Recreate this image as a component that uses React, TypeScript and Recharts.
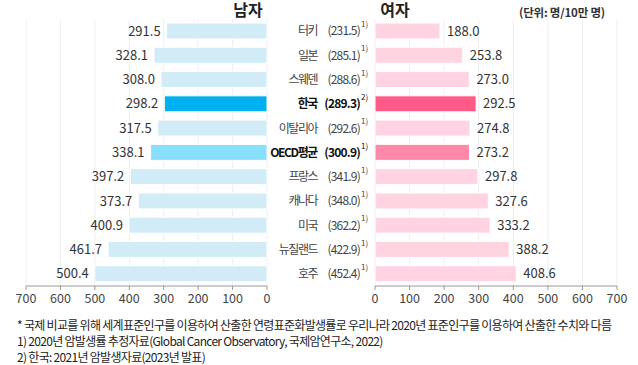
import { BarChart, Bar, XAxis, YAxis, CartesianGrid, Cell, LabelList } from "recharts"

const countries = ["터키", "일본", "스웨덴", "한국", "이탈리아", "OECD평균", "프랑스", "캐나다", "미국", "뉴질랜드", "호주"]
const male = [291.5, 328.1, 308.0, 298.2, 317.5, 338.1, 397.2, 373.7, 400.9, 461.7, 500.4]
const female = [188.0, 253.8, 273.0, 292.5, 274.8, 273.2, 297.8, 327.6, 333.2, 388.2, 408.6]
const total = [231.5, 285.1, 288.6, 289.3, 292.6, 300.9, 341.9, 348.0, 362.2, 422.9, 452.4]
const marks = ["1)", "1)", "1)", "2)", "1)", "1)", "1)", "1)", "1)", "1)", "1)"]
const axisTicks = [0, 100, 200, 300, 400, 500, 600, 700]

const notes = [
  "* 국제 비교를 위해 세계표준인구를 이용하여 산출한 연령표준화발생률로 우리나라 2020년 표준인구를 이용하여 산출한 수치와 다름",
  "1) 2020년 암발생률 추정자료(Global Cancer Observatory, 국제암연구소, 2022)",
  "2) 한국: 2021년 암발생자료(2023년 발표)",
]

const data = countries.map((name, i) => ({ name, male: male[i], female: female[i], total: total[i], mark: marks[i] }))

const maleColor = (name: string) => (name === "한국" ? "#00b0f0" : name === "OECD평균" ? "#88dffb" : "#d2ecf7")
const femaleColor = (name: string) => (name === "한국" ? "#ff5a88" : name === "OECD평균" ? "#ff87a8" : "#ffd4e0")
const isBold = (name: string) => name === "한국" || name === "OECD평균"

const tickStyle = { fontSize: 12.5, fill: "#444" }
// width of the category column on the right chart
const labelWidth = 115

function LeftValue(props: any) {
  const { x, y, width, height, value } = props
  const left = Math.min(x, x + width)
  return (
    <text x={left - 6} y={y + height / 2} dy="0.36em" textAnchor="end" fontSize={13} fill="#333">
      {Number(value).toFixed(1)}
    </text>
  )
}

function RightValue(props: any) {
  const { x, y, width, height, value } = props
  const right = Math.max(x, x + width)
  return (
    <text x={right + 7} y={y + height / 2} dy="0.36em" textAnchor="start" fontSize={13} fill="#333">
      {Number(value).toFixed(1)}
    </text>
  )
}

function CountryTick(props: any) {
  const { y, payload } = props
  const row = data.find((d) => d.name === payload.value)
  if (!row) return null
  const bold = isBold(row.name)
  const x = labelWidth
  return (
    <g>
      <text
        x={x - 58}
        y={y}
        dy="0.36em"
        textAnchor="end"
        fontSize={12}
        letterSpacing={bold ? -1.4 : -1.5}
        fontWeight={bold ? 700 : 400}
        fill={bold ? "#111" : "#444"}
      >
        {row.name}
      </text>
      <text
        x={x - 15}
        y={y}
        dy="0.36em"
        textAnchor="end"
        fontSize={12}
        letterSpacing={-0.8}
        fontWeight={bold ? 700 : 400}
        fill={bold ? "#111" : "#444"}
      >
        {"(" + row.total.toFixed(1) + ")"}
      </text>
      <text x={x - 14} y={y - 4} textAnchor="start" fontSize={8} fill={bold ? "#111" : "#444"}>
        {row.mark}
      </text>
    </g>
  )
}

export default function App() {
  return (
    <div
      style={{
        position: "absolute",
        left: 0,
        top: 0,
        width: 638,
        height: 365,
        background: "#fff",
        fontFamily: "'Noto Sans CJK KR', 'Noto Sans', sans-serif",
        color: "#222",
      }}
    >
      <div style={{ position: "absolute", left: 0, top: 0 }}>
        <BarChart width={280} height={310} data={data} layout="vertical" margin={{ top: 19, right: 13, left: 26, bottom: 0 }}>
          <CartesianGrid horizontal={false} stroke="#eeeeee" />
          <XAxis
            type="number"
            domain={[0, 700]}
            ticks={axisTicks}
            reversed
            height={24}
            tick={tickStyle}
            tickSize={4}
            tickMargin={4}
            stroke="#999"
          />
          <YAxis type="category" dataKey="name" hide />
          <Bar dataKey="male" barSize={16} isAnimationActive={false} stroke="#fff" strokeWidth={1}>
            {data.map((d) => (
              <Cell key={d.name} fill={maleColor(d.name)} />
            ))}
            <LabelList dataKey="male" content={LeftValue} />
          </Bar>
        </BarChart>
      </div>

      <div style={{ position: "absolute", left: 260, top: 0 }}>
        <BarChart width={378} height={310} data={data} layout="vertical" margin={{ top: 19, right: 21, left: 0, bottom: 0 }}>
          <CartesianGrid horizontal={false} stroke="#eeeeee" />
          <XAxis
            type="number"
            domain={[0, 700]}
            ticks={axisTicks}
            height={24}
            tick={tickStyle}
            tickSize={4}
            tickMargin={4}
            stroke="#999"
          />
          <YAxis
            type="category"
            dataKey="name"
            width={labelWidth}
            axisLine={false}
            tickLine={false}
            tickSize={0}
            tickMargin={0}
            tick={CountryTick}
            interval={0}
          />
          <Bar dataKey="female" barSize={16} isAnimationActive={false} stroke="#fff" strokeWidth={1}>
            {data.map((d) => (
              <Cell key={d.name} fill={femaleColor(d.name)} />
            ))}
            <LabelList dataKey="female" content={RightValue} />
          </Bar>
        </BarChart>
      </div>

      <svg width={638} height={22} style={{ position: "absolute", left: 0, top: 0, overflow: "visible", pointerEvents: "none" }}>
        <text x={248} y={15.5} textAnchor="middle" fontSize={16} fontWeight={700} fill="#222">
          남자
        </text>
        <text x={395} y={15.5} textAnchor="middle" fontSize={16} fontWeight={700} fill="#222">
          여자
        </text>
        <text x={519} y={17} fontSize={11.5} fontWeight={700} fill="#333" letterSpacing={-0.2}>
          (단위: 명/10만 명)
        </text>
      </svg>

      <div style={{ position: "absolute", left: 17, top: 317, fontSize: 12, lineHeight: "16px", color: "#222", letterSpacing: -0.7, whiteSpace: "nowrap" }}>
        {notes.map((n) => (
          <div key={n}>{n}</div>
        ))}
      </div>
    </div>
  )
}
